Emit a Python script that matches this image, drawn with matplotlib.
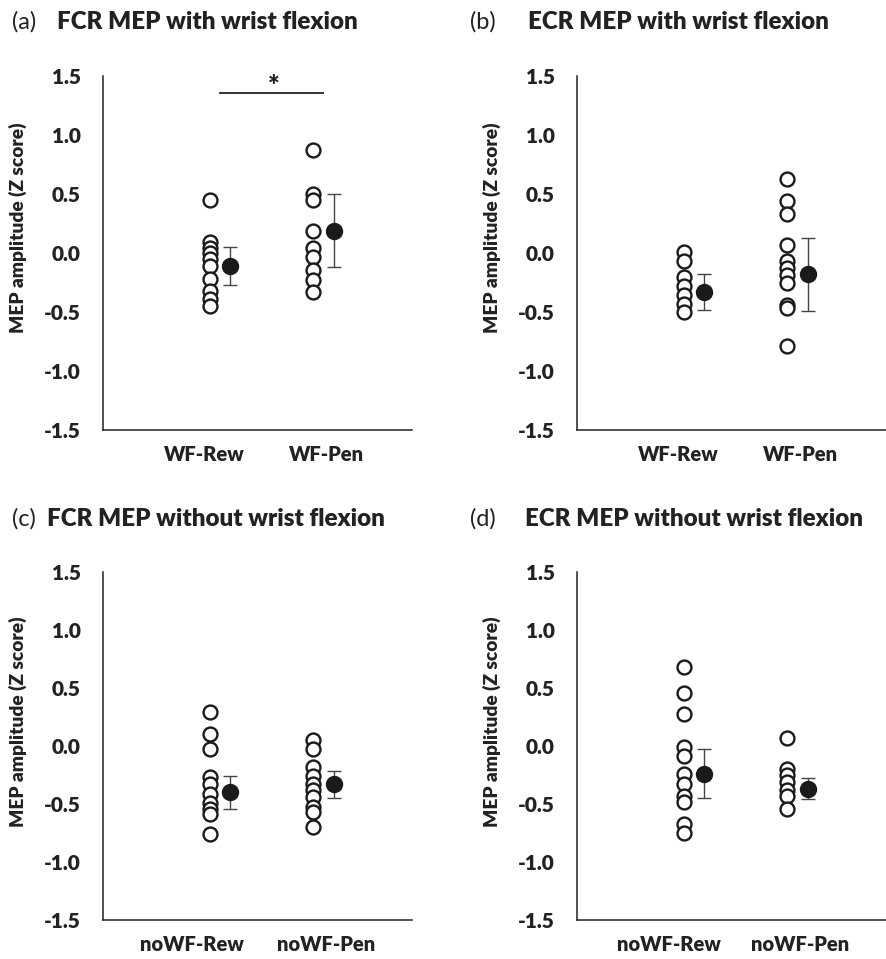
import numpy as np
import matplotlib
matplotlib.use("Agg")
import matplotlib.pyplot as plt

plt.rcParams['font.family'] = ['Lato', 'DejaVu Sans']

# panel data: individual z scores, group mean and error
a_rew = [0.45, 0.09, 0.04, 0.0, -0.05, -0.11, -0.22, -0.32, -0.39, -0.45]
a_pen = [0.87, 0.50, 0.45, 0.19, 0.04, -0.03, -0.14, -0.23, -0.33]
a_mean = [-0.11, 0.19]
a_err = [0.16, 0.31]

b_rew = [0.01, -0.07, -0.20, -0.28, -0.36, -0.43, -0.50]
b_pen = [0.63, 0.44, 0.33, 0.07, -0.07, -0.13, -0.19, -0.25, -0.44, -0.47, -0.79]
b_mean = [-0.33, -0.18]
b_err = [0.155, 0.31]

c_rew = [0.29, 0.10, -0.03, -0.27, -0.33, -0.41, -0.49, -0.54, -0.59, -0.76]
c_pen = [0.05, -0.03, -0.18, -0.26, -0.33, -0.38, -0.44, -0.53, -0.57, -0.70]
c_mean = [-0.40, -0.33]
c_err = [0.14, 0.115]

d_rew = [0.68, 0.46, 0.28, -0.01, -0.09, -0.24, -0.33, -0.43, -0.48, -0.67, -0.75]
d_pen = [0.07, -0.20, -0.25, -0.31, -0.38, -0.43, -0.54]
d_mean = [-0.24, -0.37]
d_err = [0.21, 0.09]

wf_labels = ['WF-Rew', 'WF-Pen']
nowf_labels = ['noWF-Rew', 'noWF-Pen']
titles = ['FCR MEP with wrist flexion', 'ECR MEP with wrist flexion',
          'FCR MEP without wrist flexion', 'ECR MEP without wrist flexion']
letters = ['(a)', '(b)', '(c)', '(d)']
yticks = [-1.5, -1.0, -0.5, 0.0, 0.5, 1.0, 1.5]

txt = '#222222'
W, H = 886, 959
fig = plt.figure(figsize=(W / 100, H / 100), dpi=100)

# axes boxes in pixels: left, top, right, bottom
boxes = [(103, 76, 412, 430), (577, 76, 886, 430),
         (103, 572, 412, 920), (577, 572, 886, 920)]
panels = [(a_rew, a_pen, a_mean, a_err, wf_labels),
          (b_rew, b_pen, b_mean, b_err, wf_labels),
          (c_rew, c_pen, c_mean, c_err, nowf_labels),
          (d_rew, d_pen, d_mean, d_err, nowf_labels)]
label_x = [[1, 2], [1, 2], [0.9, 2.0], [0.92, 2.0]]
title_pos = [(12, 57, 22), (470, 528, 22), (12, 47, 519), (470, 525, 519)]

axes = []
for i, (box, pdata) in enumerate(zip(boxes, panels)):
    l, t, r, b = box
    ax = fig.add_axes([l / W, 1 - b / H, (r - l) / W, (b - t) / H])
    rew, pen, mean, err, labs = pdata
    ax.plot([1.05] * len(rew), rew, 'o', ms=10, mfc='white', mec='#1a1a1a', mew=1.7, zorder=3)
    ax.plot([1.89] * len(pen), pen, 'o', ms=10, mfc='white', mec='#1a1a1a', mew=1.7, zorder=3)
    ax.errorbar([1.21, 2.06], mean, yerr=err, fmt='o', ms=11.5, mfc='#1a1a1a', mec='#1a1a1a',
                ecolor='#444444', elinewidth=1.0, capsize=5, capthick=1.0, zorder=4)
    ax.set_ylim(-1.5, 1.5)
    ax.set_xlim(0.17, 2.7)
    ax.set_yticks(yticks)
    ax.set_yticklabels(['%.1f' % v for v in yticks], fontsize=15, fontweight='heavy', color=txt)
    ax.set_xticks(label_x[i])
    ax.set_xticklabels(labs, fontsize=14.5, fontweight='heavy', color=txt)
    ax.tick_params(length=0)
    ax.tick_params(axis='y', pad=16)
    ax.tick_params(axis='x', pad=11)
    for s in ['top', 'right']:
        ax.spines[s].set_visible(False)
    for s in ['left', 'bottom']:
        ax.spines[s].set_color('#222222')
        ax.spines[s].set_linewidth(1.1)
    ax.set_ylabel('MEP amplitude (Z score)', fontsize=13.8, fontweight='heavy', color=txt)
    ax.yaxis.set_label_coords(-0.245, 0.57)
    lx, tx, ty = title_pos[i]
    fig.text(lx / W, 1 - ty / H, letters[i], fontsize=17, color=txt, va='center')
    fig.text(tx / W, 1 - ty / H, titles[i], fontsize=17.4, fontweight='heavy', color=txt, va='center')
    axes.append(ax)

# significance bar in panel (a)
axes[0].plot([1.13, 1.97], [1.36, 1.36], color='#222222', lw=1.3, clip_on=False)
axes[0].text(1.57, 1.41, '*', fontsize=20, fontweight='heavy', color=txt, ha='center', va='center')

fig.savefig('out.png', dpi=100, facecolor='white')
